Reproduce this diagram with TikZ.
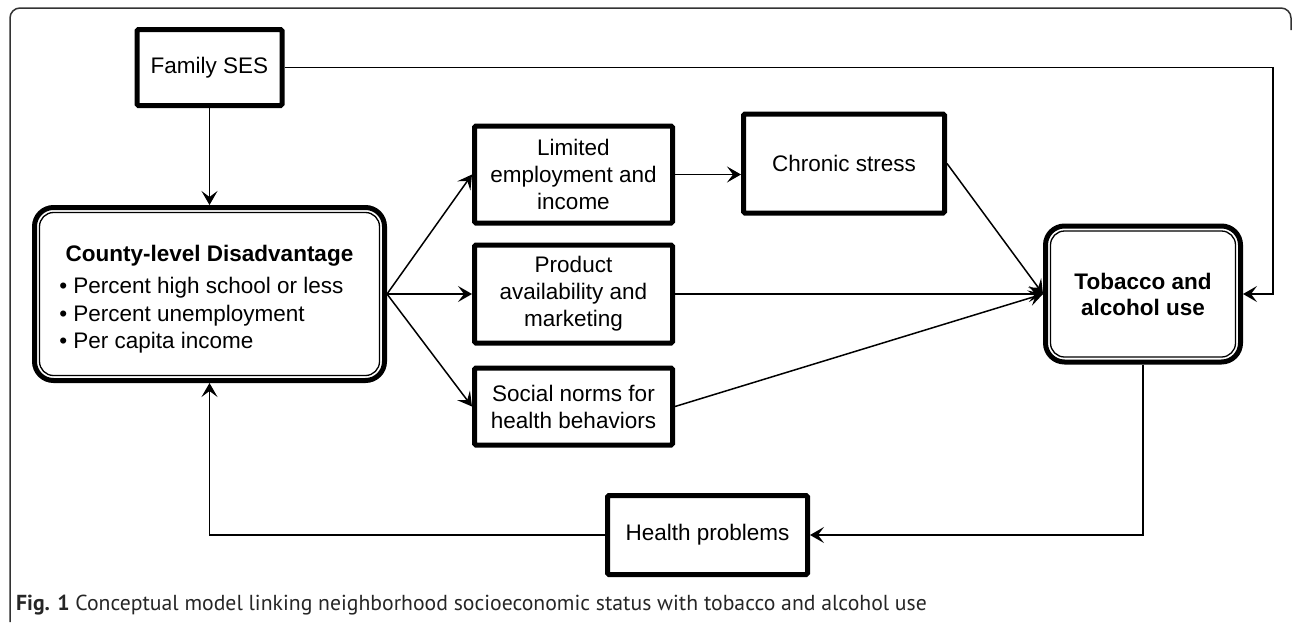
\documentclass[tikz,border=0pt]{standalone}
\usepackage{fontspec}
\setmainfont{Liberation Sans}
\newfontfamily\capfont{PT Sans}
\usepackage{tikz}
\usetikzlibrary{positioning,arrows.meta}
\tikzstyle{box} = [draw,line width=5pt,rounded corners=1.5pt,align=center,inner sep=0pt]
\tikzstyle{dblbox} = [draw,line width=5pt,rounded corners=19pt,align=center,inner sep=0pt]
\tikzstyle{innerline} = [draw,line width=1.3pt,rounded corners=14pt]
\tikzstyle{arr} = [draw,line width=1.5pt,-{Stealth[length=14pt,width=16pt,inset=6pt]}]

\begin{document}
\begin{tikzpicture}[x=1pt,y=1pt,node distance=85pt,font=\fontsize{22.5}{27}\selectfont]
            \useasboundingbox (0,0) rectangle (1293,-622);
            \draw[line width=1.5pt,black!80,rounded corners=10pt] (10,-622) -- (10,-8) -- (1291,-8) -- (1291,-30);
            % left part
            \node[dblbox,minimum width=350pt,minimum height=173pt] (county) at (209.5,-294) {\rule{0pt}{31pt}{\bfseries County-level Disadvantage}\\[7pt]
                \renewcommand{\arraystretch}{1.02}\begin{tabular}{@{}l@{}}•\hspace{6pt}Percent high school or less\\•\hspace{6pt}Percent unemployment\\•\hspace{6pt}Per capita income\end{tabular}\hspace*{16pt}};
            \draw[innerline] ([shift={(7.5,-7.5)}]county.north west) rectangle ([shift={(-7.5,7.5)}]county.south east);
            \node[box,minimum width=145pt,minimum height=76pt] (fam) [above=97pt of county] {Family SES};
            % middle column
            \node[box,minimum width=198pt,minimum height=98pt] (product) [right=85pt of county] {Product\\availability and\\marketing};
            \node[box,minimum width=198pt,minimum height=97pt] (limited) [above=17pt of product] {Limited\\employment and\\income};
            \node[box,minimum width=198pt,minimum height=77pt] (social) [below=20pt of product] {Social norms for\\health behaviors};
            \node[box,minimum width=201pt,minimum height=99pt] (chronic) [right=66pt of limited,yshift=11pt] {Chronic stress};
            % outcome
            \node[dblbox,minimum width=195pt,minimum height=136pt,font=\fontsize{22.5}{26}\selectfont\bfseries] (tob) [right=368pt of product] {Tobacco and\\alcohol use};
            \draw[innerline] ([shift={(7.5,-7.5)}]tob.north west) rectangle ([shift={(-7.5,7.5)}]tob.south east);
            \node[box,minimum width=200pt,minimum height=79pt] (health) at (707.5,-535) {Health problems};
            % connectors
            \draw[arr] (fam.south) -- (fam.south |- county.north);
            \draw[arr] (fam.east) -| ([xshift=30pt]tob.east) -- (tob.east);
            \draw[arr] (county.east) -- (limited.west);
            \draw[arr] (county.east) -- (product.west);
            \draw[arr] (county.east) -- (social.west);
            \draw[arr] (limited.east) -- (limited.east -| chronic.west);
            \draw[arr] (chronic.east) -- (tob.west);
            \draw[arr] (product.east) -- (tob.west);
            \draw[arr] (social.east) -- (tob.west);
            \draw[arr] (tob.south) |- (health.east);
            \draw[arr] (health.west) -| (county.south);
            % caption
            \node[anchor=base west,inner sep=0pt,text=black!85,font=\capfont\fontsize{21.7}{24}\selectfont] (caption) at (16,-610) {\textbf{Fig. 1} Conceptual model linking neighborhood socioeconomic status with tobacco and alcohol use};
        \end{tikzpicture}
\end{document}
